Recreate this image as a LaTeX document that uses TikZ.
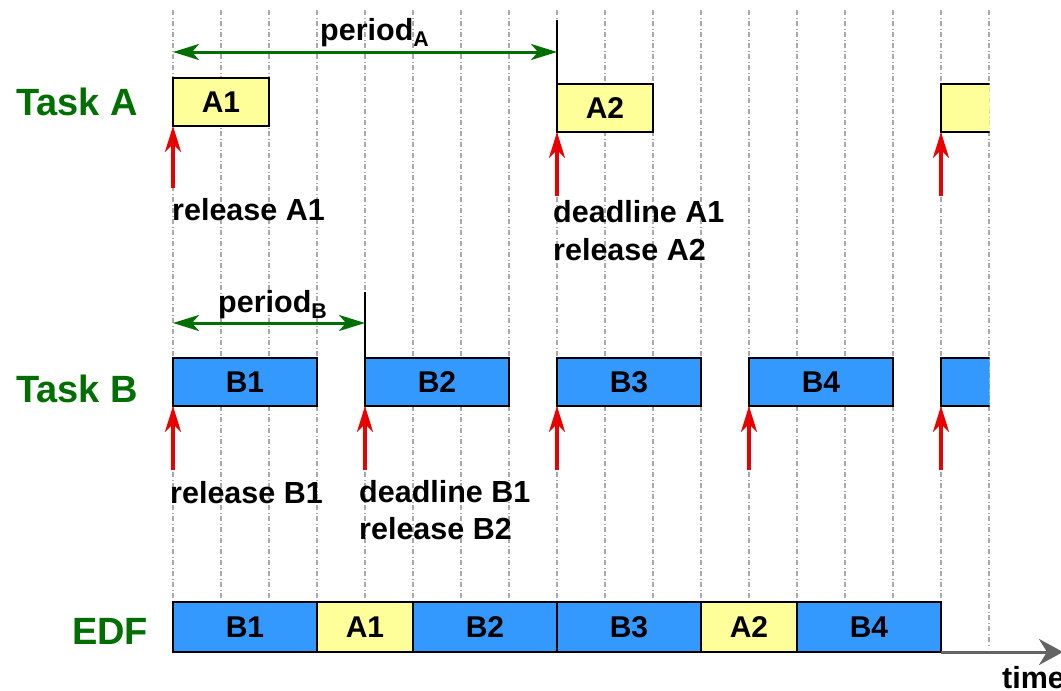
\documentclass[tikz,border=0pt]{standalone}
\usepackage{fontspec}
\setmainfont{Liberation Sans}
\usetikzlibrary{arrows.meta}

\definecolor{taskgreen}{RGB}{0,110,0}
\definecolor{relred}{RGB}{230,0,0}
\definecolor{jobblue}{RGB}{51,153,255}
\definecolor{jobyellow}{RGB}{255,255,153}
\definecolor{gridgray}{RGB}{170,170,170}
\definecolor{axisgray}{RGB}{100,100,100}

\tikzset{
  gridline/.style={gridgray, line width=1.4pt, dash pattern=on 5pt off 2.5pt on 1pt off 2.5pt},
  job/.style={draw=black, line width=2.8pt, inner sep=0pt, outer sep=0pt, font=\fontsize{30}{32}\selectfont\bfseries},
  jobA/.style={job, fill=jobyellow, minimum height=48pt},
  jobB/.style={job, fill=jobblue, minimum height=48pt},
  tasklabel/.style={anchor=base west, inner sep=0pt, text=taskgreen, font=\fontsize{38}{40}\selectfont\bfseries},
  evlabel/.style={anchor=base west, inner sep=0pt, font=\fontsize{30.5}{38}\selectfont\bfseries},
  release/.style={relred, line width=4pt, -{Stealth[length=26pt, width=16pt, inset=8pt]}},
  periodarrow/.style={taskgreen, line width=3pt, {Stealth[length=26pt, width=16pt, inset=7pt]}-{Stealth[length=26pt, width=16pt, inset=7pt]}},
  marker/.style={black, line width=2.8pt},
  timeaxis/.style={axisgray, line width=3pt, -{Stealth[length=24pt, width=26pt, inset=8pt]}}
}

\begin{document}
\begin{tikzpicture}[x=1pt, y=-1pt]
  \useasboundingbox (0,0) rectangle (1061,691);
  \clip (0,0) rectangle (1061,691);

  % time grid, one line per time unit
  \foreach \k in {0,...,17} {
    \draw[gridline] ({173+48*\k},10) -- ({173+48*\k},648);
  }

  % ---------------- Task A ----------------
  \node[tasklabel] (taskA) at (16,115) {Task A};

  \node[jobA, minimum width=96pt] (a1) at (221,102) {A1};
  \node[jobA, minimum width=96pt] (a2) at (605,108) {A2};
  \begin{scope}
    \clip (900,0) rectangle (989.5,300);
    \node[jobA, minimum width=96pt] (a3) at (989,108) {};
  \end{scope}

  \coordinate (mA) at (557,20);
  \coordinate (pA0) at (173,52);
  \coordinate (pA1) at (557,52);
  \draw[marker] (mA) -- (a2.north west);
  \draw[periodarrow] (pA0) -- (pA1);
  \node[evlabel] (perA) at (320,40) {period\textsubscript{A}};

  \coordinate (rA1) at (173,188);
  \coordinate (rA2) at (557,196);
  \coordinate (rA3) at (941,196);
  \draw[release] (rA1) -- (a1.south west);
  \draw[release] (rA2) -- (a2.south west);
  \draw[release] (rA3) -- (a3.south west);

  \node[evlabel] (relA1) at (172,220) {release A1};
  \node[evlabel] (dlA1) at (553,222) {deadline A1};
  \node[evlabel] (relA2) at (553,260) {release A2};

  % ---------------- Task B ----------------
  \node[tasklabel] (taskB) at (16,402) {Task B};

  \node[jobB, minimum width=144pt] (b1) at (245,382) {B1};
  \node[jobB, minimum width=144pt] (b2) at (437,382) {B2};
  \node[jobB, minimum width=144pt] (b3) at (629,382) {B3};
  \node[jobB, minimum width=144pt] (b4) at (821,382) {B4};
  \begin{scope}
    \clip (900,300) rectangle (989.5,450);
    \node[jobB, minimum width=144pt] (b5) at (1013,382) {};
  \end{scope}

  \coordinate (mB) at (365,292);
  \coordinate (pB0) at (173,323);
  \coordinate (pB1) at (365,323);
  \draw[marker] (mB) -- (b2.north west);
  \draw[periodarrow] (pB0) -- (pB1);
  \node[evlabel] (perB) at (218,312) {period\textsubscript{B}};

  \foreach \j/\x in {b1/173, b2/365, b3/557, b4/749, b5/941} {
    \coordinate (r\j) at (\x,470);
    \draw[release] (r\j) -- (\j.south west);
  }

  \node[evlabel] (relB1) at (170,503) {release B1};
  \node[evlabel] (dlB1) at (359,502) {deadline B1};
  \node[evlabel] (relB2) at (359,539) {release B2};

  % ---------------- EDF schedule ----------------
  \node[tasklabel] (edf) at (72,644) {EDF};

  \coordinate (timeend) at (1063,652);
  \node[jobB, minimum width=144pt, minimum height=50pt] (e1) at (245,627) {B1};
  \node[jobA, minimum width=96pt,  minimum height=50pt] (e2) at (365,627) {A1};
  \node[jobB, minimum width=144pt, minimum height=50pt] (e3) at (485,627) {B2};
  \node[jobB, minimum width=144pt, minimum height=50pt] (e4) at (629,627) {B3};
  \node[jobA, minimum width=96pt,  minimum height=50pt] (e5) at (749,627) {A2};
  \node[jobB, minimum width=144pt, minimum height=50pt] (e6) at (869,627) {B4};
  \draw[timeaxis] (e6.south east) -- (timeend);
  \node[evlabel] (time) at (1002,688) {time};
\end{tikzpicture}
\end{document}
